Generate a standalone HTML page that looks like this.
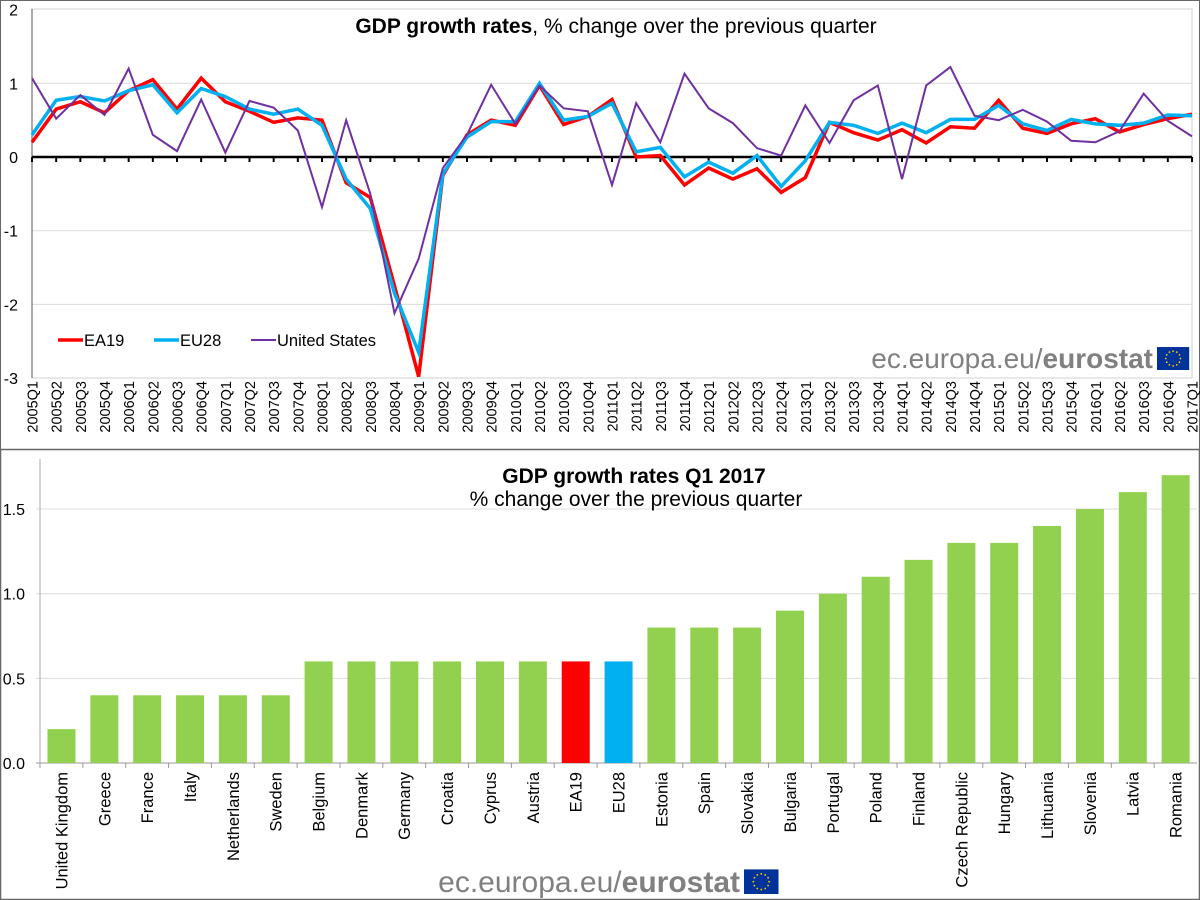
<!DOCTYPE html>
<html><head><meta charset="utf-8"><style>
html,body{margin:0;padding:0;background:#fff;}
svg{display:block;font-family:"Liberation Sans",Arial,sans-serif;}
</style></head><body>
<svg id="c" width="1200" height="900" viewBox="0 0 1200 900"></svg>
<script>
const quarters=[];for(let y=2005;y<=2017;y++){for(let q=1;q<=4;q++){if(y===2017&&q>1)break;quarters.push(y+"Q"+q);}}
const ea19=[0.2,0.65,0.75,0.6,0.9,1.05,0.65,1.07,0.75,0.62,0.47,0.53,0.5,-0.35,-0.55,-1.75,-2.98,-0.25,0.3,0.5,0.43,0.97,0.44,0.55,0.78,0.0,0.02,-0.38,-0.15,-0.3,-0.16,-0.48,-0.28,0.47,0.33,0.23,0.37,0.19,0.41,0.39,0.77,0.39,0.32,0.45,0.52,0.34,0.44,0.52,0.58];
const eu28=[0.3,0.77,0.82,0.76,0.9,0.98,0.6,0.93,0.82,0.65,0.58,0.65,0.43,-0.3,-0.7,-1.85,-2.65,-0.23,0.27,0.48,0.48,1.0,0.5,0.55,0.73,0.07,0.13,-0.27,-0.07,-0.22,0.02,-0.4,-0.05,0.47,0.43,0.32,0.46,0.33,0.51,0.51,0.7,0.45,0.36,0.51,0.45,0.43,0.46,0.57,0.56];
const us=[1.07,0.52,0.84,0.57,1.2,0.3,0.08,0.78,0.06,0.76,0.67,0.36,-0.68,0.5,-0.5,-2.12,-1.38,-0.15,0.3,0.98,0.45,0.97,0.66,0.62,-0.38,0.73,0.2,1.13,0.66,0.46,0.12,0.02,0.7,0.19,0.77,0.97,-0.3,0.97,1.22,0.56,0.5,0.64,0.48,0.22,0.2,0.35,0.86,0.49,0.28];
const topTicks=[2,1,0,-1,-2,-3];
const countries=["United Kingdom","Greece","France","Italy","Netherlands","Sweden","Belgium","Denmark","Germany","Croatia","Cyprus","Austria","EA19","EU28","Estonia","Spain","Slovakia","Bulgaria","Portugal","Poland","Finland","Czech Republic","Hungary","Lithuania","Slovenia","Latvia","Romania"];
const growth=[0.2,0.4,0.4,0.4,0.4,0.4,0.6,0.6,0.6,0.6,0.6,0.6,0.6,0.6,0.8,0.8,0.8,0.9,1.0,1.1,1.2,1.3,1.3,1.4,1.5,1.6,1.7];
const botTicks=[0,0.5,1.0,1.5];

const NS="http://www.w3.org/2000/svg",svg=document.getElementById('c');
function mk(t,a,p){const e=document.createElementNS(NS,t);for(const k in a)e.setAttribute(k,a[k]);(p||svg).appendChild(e);return e;}
// top panel
const xT=i=>32+i*(1160/48), yT=v=>157-v*73.7;
const f1=mk('rect',{x:0.5,y:0.5,width:1199,height:449,fill:'#fff',stroke:'#666','stroke-width':1});

const pa=mk('rect',{x:32,y:9,width:1160,height:369,fill:'none',stroke:'#d0d0d0'});

topTicks.forEach(v=>{
 if(v!==0&&v!==-3&&v!==2){const g=mk('line',{x1:32,x2:1192,y1:yT(v),y2:yT(v),stroke:'#dcdcdc'});}
 const t=mk('text',{x:18,y:yT(v)+6,'text-anchor':'end','font-size':16});t.textContent=v;
 
});
const ya=mk('line',{x1:32,x2:32,y1:9,y2:378,stroke:'#555'});
const za=mk('line',{x1:32,x2:1192,y1:yT(0),y2:yT(0),stroke:'#000','stroke-width':2.5});
quarters.forEach((q,i)=>{
 const tk=mk('line',{x1:xT(i),x2:xT(i),y1:yT(0),y2:yT(0)+5,stroke:'#000','stroke-width':2});
 
 const t=mk('text',{transform:`translate(${xT(i)+5.5},381) rotate(-90)`,'text-anchor':'end','font-size':14.5});t.textContent=q;
 
});
function line(arr,col,w,name){const p=mk('polyline',{points:arr.map((v,i)=>xT(i)+','+yT(v)).join(' '),fill:'none',stroke:col,'stroke-width':w,'stroke-linejoin':'miter'});
 }
line(ea19,'#ff0000',3.5,'ea19-line');line(eu28,'#00b0f0',3.5,'eu28-line');line(us,'#7030a0',2,'us-line');
const tt=mk('text',{x:616,y:33,'text-anchor':'middle','font-size':21});
tt.innerHTML='<tspan font-weight="bold">GDP growth rates</tspan>, % change over the previous quarter';

[['EA19','#ff0000',3.5,58],['EU28','#00b0f0',3.5,154],['United States','#7030a0',2,251]].forEach(([n,c,w,x])=>{
 const g=mk('g',{});
 mk('line',{x1:x,x2:x+25,y1:340,y2:340,stroke:c,'stroke-width':w},g);
 const t=mk('text',{x:x+26,y:346,'font-size':16.5},g);t.textContent=n;
});
function logo(x,y,size,name){const g=mk('g',{});
 const t=mk('text',{x:x,y:y,'font-size':size,fill:'#808080','text-anchor':'end'},g);
 t.innerHTML='ec.europa.eu/<tspan font-weight="bold">eurostat</tspan>';
 const w=size*1.15,h=size*0.82;mk('rect',{x:x+4,y:y-h+2,width:w,height:h,fill:'#003399'},g);
 for(let k=0;k<12;k++){const a=k*Math.PI/6;mk('circle',{cx:x+4+w/2+Math.cos(a)*h*0.32,cy:y-h+2+h/2+Math.sin(a)*h*0.32,r:0.9,fill:'#ffcc00'},g);}
}
logo(1153,368,28,'eurostat-logo-top');
// bottom panel
const f2=mk('rect',{x:0.5,y:449.5,width:1199,height:450,fill:'#fff',stroke:'#666','stroke-width':1.5});

const bw=(1197-40)/countries.length, xB=i=>40+i*bw, yB=v=>763-v*169.3;
botTicks.forEach(v=>{
 const g=mk('line',{x1:36,x2:1197,y1:yB(v),y2:yB(v),stroke:v===0?'#999':'#dcdcdc'});
 const t=mk('text',{x:25,y:yB(v)+6,'text-anchor':'end','font-size':16});t.textContent=v.toFixed(1);
 
});
const ya2=mk('line',{x1:40,x2:40,y1:459,y2:763,stroke:'#aaa'});
countries.forEach((c,i)=>{
 const col=c==='EA19'?'#ff0000':c==='EU28'?'#00b0f0':'#92d050';
 const b=mk('rect',{x:xB(i)+7.5,y:yB(growth[i]),width:28,height:yB(0)-yB(growth[i]),fill:col});
 
 const tk=mk('line',{x1:xB(i),x2:xB(i),y1:763,y2:768,stroke:'#999'});
 const t=mk('text',{transform:`translate(${xB(i)+bw/2+6},772) rotate(-90)`,'text-anchor':'end','font-size':16.5});t.textContent=c;
 
});
const t2=mk('text',{x:634,y:483,'text-anchor':'middle','font-size':21,'font-weight':'bold'});t2.textContent='GDP growth rates Q1 2017';

const t3=mk('text',{x:636,y:506,'text-anchor':'middle','font-size':21});t3.textContent='% change over the previous quarter';

logo(740,892,30,'eurostat-logo-bottom');
</script>
</body></html>
